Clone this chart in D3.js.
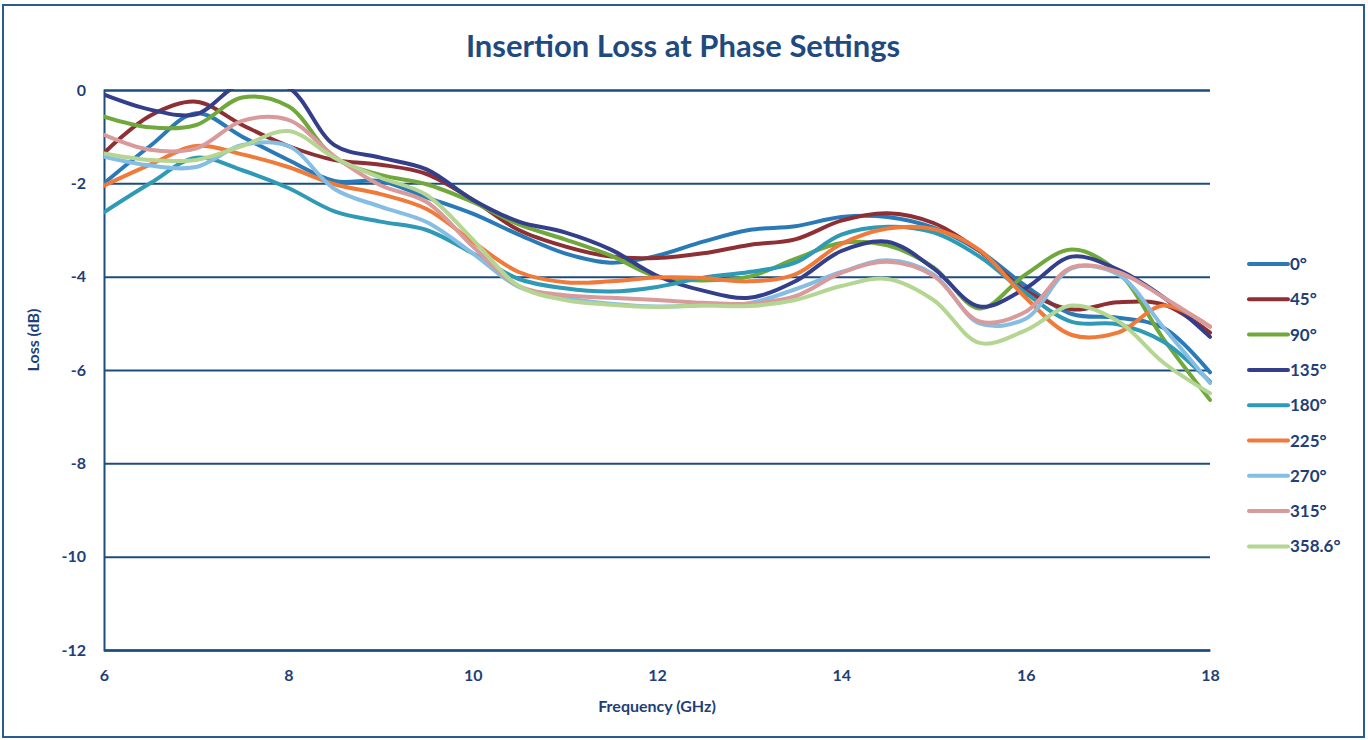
<!DOCTYPE html>
<html>
<head>
<meta charset="utf-8">
<script src="https://cdn.jsdelivr.net/npm/d3@7/dist/d3.min.js"></script>
<style>
  html, body { margin: 0; padding: 0; background: #ffffff; }
  svg { display: block; }
</style>
</head>
<body>
<svg id="chart" width="1368" height="740"></svg>
<script>
// ---- Data ----
const frequencies = [6, 6.5, 7, 7.5, 8, 8.5, 9, 9.5, 10, 10.5, 11, 11.5, 12, 12.5, 13, 13.5, 14, 14.5, 15, 15.5, 16, 16.5, 17, 17.5, 18];

const seriesNames = ["0°", "45°", "90°", "135°", "180°", "225°", "270°", "315°", "358.6°"];

const loss0   = [-2.0, -1.2, -0.5, -1.0, -1.5, -1.95, -1.95, -2.3, -2.65, -3.1, -3.5, -3.7, -3.55, -3.25, -3.0, -2.92, -2.72, -2.72, -2.95, -3.45, -4.2, -4.8, -4.88, -5.1, -6.05];
const loss45  = [-1.35, -0.55, -0.25, -0.75, -1.2, -1.5, -1.6, -1.8, -2.35, -3.0, -3.35, -3.57, -3.6, -3.5, -3.32, -3.2, -2.8, -2.64, -2.85, -3.45, -4.3, -4.7, -4.55, -4.6, -5.2];
const loss90  = [-0.57, -0.8, -0.75, -0.16, -0.35, -1.45, -1.82, -2.02, -2.4, -2.88, -3.2, -3.55, -4.0, -4.08, -4.0, -3.62, -3.28, -3.33, -3.8, -4.68, -3.95, -3.42, -3.9, -5.35, -6.64];
const loss135 = [-0.1, -0.42, -0.52, 0.15, 0.05, -1.18, -1.45, -1.7, -2.35, -2.82, -3.05, -3.42, -3.98, -4.3, -4.45, -4.1, -3.45, -3.25, -3.82, -4.64, -4.25, -3.57, -3.85, -4.45, -5.29];
const loss180 = [-2.62, -2.0, -1.45, -1.72, -2.1, -2.6, -2.82, -3.0, -3.5, -4.05, -4.25, -4.32, -4.22, -4.02, -3.9, -3.7, -3.1, -2.93, -3.05, -3.57, -4.35, -4.97, -5.02, -5.4, -6.25];
const loss225 = [-2.05, -1.6, -1.2, -1.38, -1.65, -2.02, -2.23, -2.55, -3.25, -3.9, -4.12, -4.1, -4.02, -4.03, -4.1, -3.95, -3.3, -2.97, -2.98, -3.43, -4.45, -5.25, -5.2, -4.62, -5.07];
const loss270 = [-1.43, -1.62, -1.65, -1.18, -1.2, -2.12, -2.5, -2.83, -3.5, -4.22, -4.45, -4.58, -4.64, -4.61, -4.57, -4.27, -3.9, -3.65, -3.95, -5.0, -4.9, -3.82, -3.95, -5.1, -6.28];
const loss315 = [-0.96, -1.28, -1.25, -0.66, -0.64, -1.42, -2.04, -2.4, -3.35, -4.2, -4.4, -4.45, -4.5, -4.56, -4.58, -4.42, -3.92, -3.68, -3.98, -4.96, -4.75, -3.8, -3.9, -4.45, -5.07];
const loss3586 = [-1.36, -1.5, -1.5, -1.2, -0.88, -1.45, -1.88, -2.25, -3.2, -4.2, -4.5, -4.6, -4.65, -4.62, -4.63, -4.5, -4.2, -4.05, -4.5, -5.42, -5.15, -4.62, -4.95, -5.85, -6.5];

const seriesValues = [loss0, loss45, loss90, loss135, loss180, loss225, loss270, loss315, loss3586];
const seriesColors = ["#2a7ab8", "#8e2f33", "#70a83b", "#343f8c", "#2f9ab5", "#ef7a3a", "#86bde3", "#d89a9a", "#b4d692"];

const xTicks = [6, 8, 10, 12, 14, 16, 18];
const yTicks = [0, -2, -4, -6, -8, -10, -12];

const titleText = "Insertion Loss at Phase Settings";
const xTitle = "Frequency (GHz)";
const yTitle = "Loss (dB)";

// ---- Layout ----
const svg = d3.select("#chart");
const W = 1368, H = 740;
const plot = { left: 104, right: 1210, top: 90, bottom: 650 };
const textColor = "#1f3f78";
const gridColor = "#1d4d7e";
const fontFam = "Lato, 'Open Sans', 'DejaVu Sans', sans-serif";

const x = d3.scaleLinear().domain([6, 18]).range([plot.left, plot.right]);
const y = d3.scaleLinear().domain([-12, 0]).range([plot.bottom, plot.top]);

// outer frame
svg.append("rect")
  .attr("x", 3).attr("y", 5).attr("width", W - 7).attr("height", H - 8)
  .attr("fill", "#ffffff").attr("stroke", "#2a5a8e").attr("stroke-width", 2);

// title
svg.append("text")
  .attr("x", 683).attr("y", 57)
  .attr("text-anchor", "middle")
  .attr("font-family", fontFam)
  .attr("font-weight", "bold")
  .attr("font-size", 31)
  .attr("fill", "#1f4a80")
  .text(titleText);

// gridlines
const yAxis = d3.axisLeft(y).tickValues(yTicks).tickSize(-(plot.right - plot.left)).tickPadding(18).tickFormat(d3.format("d"));
const gy = svg.append("g").attr("transform", `translate(${plot.left},0)`).call(yAxis);
gy.select(".domain").attr("stroke", gridColor).attr("stroke-width", 2);
gy.selectAll(".tick line").attr("stroke", gridColor).attr("stroke-width", 2);
gy.selectAll(".tick text")
  .attr("font-family", fontFam).attr("font-weight", "bold").attr("font-size", 16)
  .attr("fill", textColor)
  .text(d => d === 0 ? "0" : "-" + Math.abs(d));

const xAxis = d3.axisBottom(x).tickValues(xTicks).tickSize(0).tickPadding(20).tickFormat(d3.format("d"));
const gx = svg.append("g").attr("transform", `translate(0,${plot.bottom})`).call(xAxis);
gx.select(".domain").attr("stroke", gridColor).attr("stroke-width", 2);
gx.selectAll(".tick text")
  .attr("font-family", fontFam).attr("font-weight", "bold").attr("font-size", 16)
  .attr("fill", textColor);

// axis titles
svg.append("text")
  .attr("x", (plot.left + plot.right) / 2).attr("y", 712)
  .attr("text-anchor", "middle")
  .attr("font-family", fontFam).attr("font-weight", "bold").attr("font-size", 16)
  .attr("fill", textColor)
  .text(xTitle);

svg.append("text")
  .attr("transform", "translate(39,340) rotate(-90)")
  .attr("text-anchor", "middle")
  .attr("font-family", fontFam).attr("font-weight", "bold").attr("font-size", 16)
  .attr("fill", textColor)
  .text(yTitle);

// clip
svg.append("clipPath").attr("id", "plotclip")
  .append("rect")
  .attr("x", plot.left).attr("y", plot.top - 1)
  .attr("width", plot.right - plot.left + 4).attr("height", plot.bottom - plot.top + 1);

const line = d3.line()
  .x((d, i) => x(frequencies[i]))
  .y(d => y(d))
  .curve(d3.curveCatmullRom.alpha(0.5));

const gl = svg.append("g").attr("clip-path", "url(#plotclip)");
seriesValues.forEach((vals, i) => {
  gl.append("path")
    .datum(vals)
    .attr("d", line)
    .attr("fill", "none")
    .attr("stroke", seriesColors[i])
    .attr("stroke-width", 4)
    .attr("stroke-linejoin", "round")
    .attr("stroke-linecap", "round");
});

// legend
const legendY0 = 264, legendStep = 35.3;
const lg = svg.append("g");
seriesNames.forEach((name, i) => {
  const yy = legendY0 + i * legendStep;
  lg.append("line")
    .attr("x1", 1249).attr("x2", 1288).attr("y1", yy).attr("y2", yy)
    .attr("stroke", seriesColors[i]).attr("stroke-width", 4).attr("stroke-linecap", "round");
  lg.append("text")
    .attr("x", 1290).attr("y", yy + 6)
    .attr("font-family", fontFam).attr("font-weight", "bold").attr("font-size", 17)
    .attr("fill", textColor)
    .text(name);
});
</script>
</body>
</html>
